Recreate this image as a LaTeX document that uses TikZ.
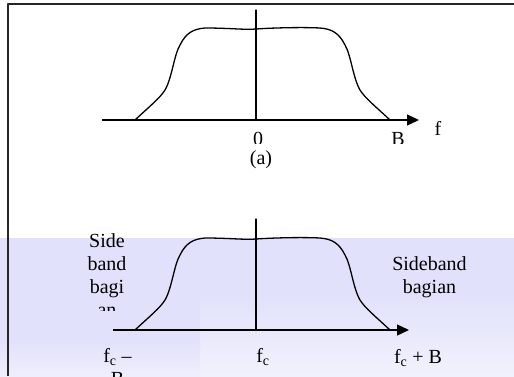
\documentclass[tikz,border=0pt]{standalone}
\usepackage{fontspec}
\setmainfont{Liberation Serif}
\usetikzlibrary{arrows.meta}
\definecolor{lavband}{RGB}{225,225,251}

\begin{document}
\begin{tikzpicture}[x=1pt,y=-1pt,line cap=round,line join=round,
  axis/.style={line width=1.3pt,line cap=butt,-{Triangle[length=12pt,width=11pt]}},
  spec/.style={line width=1.3pt},
  lbl/.style={anchor=base,inner sep=0pt,font=\fontsize{20}{23}\selectfont}]
  \useasboundingbox (0,0) rectangle (514,376);
  \clip (0,0) rectangle (514,376);
  % latar ungu muda di bagian bawah
  \fill[lavband] (0,238) rectangle (514,376);
  \shade[top color=lavband,bottom color=lavband!45!white] (200,295) rectangle (514,376);
  \shade[top color=lavband,bottom color=lavband!55!white] (0,340) rectangle (200,376);
  % bingkai kiri dan atas
  \draw[line width=2pt,black!85,line cap=butt] (7.5,376) -- (7.5,3.5) -- (514,3.5);
  % spektrum baseband (atas) dan spektrum termodulasi (bawah)
  \foreach \dy/\xs/\xe/\yt in {0/102/419/10, 210/113/409/9} {
    \begin{scope}[shift={(0,\dy)}]
      \coordinate (s) at (\xs,120);
      \coordinate (e) at (\xe,120);
      \coordinate (o) at (256,120);
      \coordinate (t) at (256,\yt);
      \draw[axis] (s) -- (e);
      \draw[spec] (o) -- (t);
      \draw[spec] (135,120)
        .. controls (150,106) and (160,98) .. (165,90)
        .. controls (172,78) and (174,55) .. (180,45)
        .. controls (186,33) and (193,29) .. (205,28)
        .. controls (230,28) and (245,30) .. (256,29)
        .. controls (270,28) and (300,27) .. (320,28)
        .. controls (332,29) and (339,33) .. (345,45)
        .. controls (351,55) and (353,78) .. (360,90)
        .. controls (365,98) and (375,106) .. (390,120);
    \end{scope}
  }
  % label gambar (a), terpotong di bawah
  \begin{scope}
    \clip (230,120) rectangle (420,143);
    \node[lbl,text depth=0pt] (zero) at (258,145) {0};
    \node[lbl,text depth=0pt] (bw) at (398,145) {B};
  \end{scope}
  \node[lbl] (fa) at (438,135) {f};
  \node[lbl] (capa) at (261,164) {(a)};
  % label gambar bawah
  \begin{scope}
    \clip (60,220) rectangle (160,310);
    \foreach \t [count=\i] in {Side,band,bagi,an}
      \node[lbl] (lsb\i) at (107,224+23*\i) {\t};
  \end{scope}
  \foreach \t [count=\i] in {Sideband,bagian}
    \node[lbl] (usb\i) at (429.5,247+23*\i) {\t};
  \node[lbl] (fcl) at (117.5,362) {f\textsubscript{c} \textendash};
  \node[lbl] (bl) at (117.5,385) {B};
  \node[lbl] (fcm) at (263,362) {f\textsubscript{c}};
  \node[lbl] (fcr) at (418,363) {f\textsubscript{c} + B};
\end{tikzpicture}
\end{document}
